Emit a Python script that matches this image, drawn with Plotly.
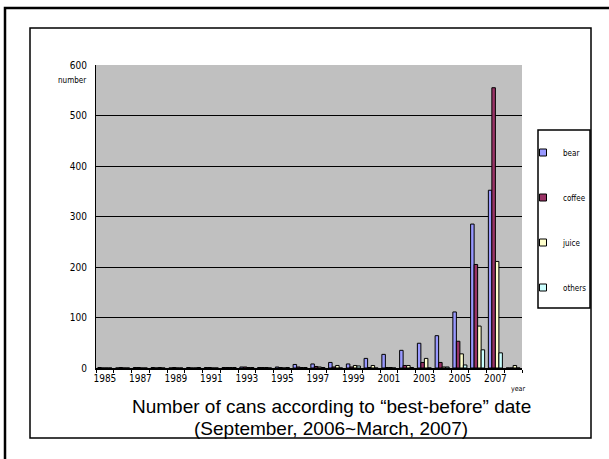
import plotly.graph_objects as go

years = list(range(1985, 2009))
bear = [1, 0, 1, 1, 0, 1, 1, 1, 2, 1, 2, 7, 8, 11, 8, 19, 27, 35, 49, 64, 111, 285, 352, 0]
coffee = [0, 1, 1, 0, 1, 0, 1, 1, 2, 1, 1, 2, 3, 2, 2, 1, 1, 5, 11, 11, 53, 205, 555, 0]
juice = [0, 0, 0, 1, 0, 0, 0, 1, 1, 1, 0, 1, 2, 5, 5, 5, 1, 5, 19, 2, 28, 83, 211, 5]
others = [0, 0, 0, 0, 0, 1, 0, 1, 1, 0, 1, 1, 1, 0, 4, 0, 0, 1, 0, 2, 6, 36, 30, 0]
series_names = ["bear", "coffee", "juice", "others"]
colors = ["#9999FF", "#993366", "#FFFFCC", "#CCFFFF"]
tick_years = list(range(1985, 2008, 2))

narrow = "Liberation Sans Narrow, DejaVu Sans Condensed, Arial Narrow, sans-serif"

fig = go.Figure()
for name, vals, col in zip(series_names, [bear, coffee, juice, others], colors):
    fig.add_trace(go.Bar(x=years, y=vals, name=name, marker=dict(color=col, line=dict(color="black", width=1)),
                         showlegend=False))
for name, col in zip(series_names, colors):
    fig.add_trace(go.Scatter(x=[None], y=[None], mode="markers", name=name, legendgroup=name,
                             marker=dict(symbol="square", size=7, color=col, line=dict(color="black", width=1))))

W, H = 609, 459
L, R, T, B = 96, 522, 65, 368
def px(x):
    return (x - L) / (R - L)
def py(y):
    return (B - y) / (B - T)

shapes = [
    dict(type="rect", xref="paper", yref="paper", x0=px(5), x1=px(640), y0=py(8), y1=py(480),
         line=dict(color="black", width=2.5)),
    dict(type="rect", xref="paper", yref="paper", x0=px(30), x1=px(591), y0=py(28), y1=py(438),
         line=dict(color="black", width=1.5)),
    dict(type="rect", xref="paper", yref="paper", x0=px(538), x1=px(590), y0=py(130), y1=py(308),
         line=dict(color="black", width=1.5), fillcolor="white"),
]

fig.update_layout(
    width=W, height=H,
    margin=dict(l=L, r=W - R, t=T, b=H - B, autoexpand=False),
    paper_bgcolor="white", plot_bgcolor="#C0C0C0",
    barmode="group", bargap=0.21, bargroupgap=0,
    font=dict(family=narrow, color="black", size=9),
    shapes=shapes,
    xaxis=dict(range=[1984.5, 2008.5], tickmode="array", tickvals=tick_years,
               ticktext=[str(y) for y in tick_years], ticks="", showgrid=False,
               showline=True, linecolor="black", linewidth=1.5, zeroline=False,
               tickfont=dict(family=narrow, size=10),
               minor=dict(tickmode="linear", tick0=1984.5, dtick=1, ticks="outside", ticklen=3,
                          tickcolor="black", showgrid=False)),
    yaxis=dict(range=[0, 600], dtick=100, showgrid=True, gridcolor="black", gridwidth=1,
               showline=True, linecolor="black", linewidth=1, ticks="", zeroline=False,
               ticklabelstandoff=6, tickfont=dict(family=narrow, size=10)),
    legend=dict(x=px(523), y=py(138), xanchor="left", yanchor="top", bgcolor="rgba(0,0,0,0)",
                borderwidth=0, tracegroupgap=26,
                font=dict(family=narrow, size=8), itemwidth=30),
    annotations=[
        dict(text="number", xref="paper", yref="paper", x=px(72), y=py(81), xanchor="center",
             yanchor="middle", showarrow=False, font=dict(family=narrow, size=8)),
        dict(text="year", xref="paper", yref="paper", x=px(518), y=py(389), xanchor="center",
             yanchor="middle", showarrow=False, font=dict(family=narrow, size=7)),
        dict(text="Number of cans according to \u201cbest-before\u201d date",
             xref="paper", yref="paper", x=px(331), y=py(406), xanchor="center", yanchor="middle",
             showarrow=False, font=dict(family="Liberation Sans, Arial, sans-serif", size=19)),
        dict(text="(September, 2006~March, 2007)",
             xref="paper", yref="paper", x=px(331), y=py(428), xanchor="center", yanchor="middle",
             showarrow=False, font=dict(family="Liberation Sans, Arial, sans-serif", size=19)),
    ],
)

fig.write_html("out.html", config={"displayModeBar": False},
               post_script="document.body.style.margin='0px';")
